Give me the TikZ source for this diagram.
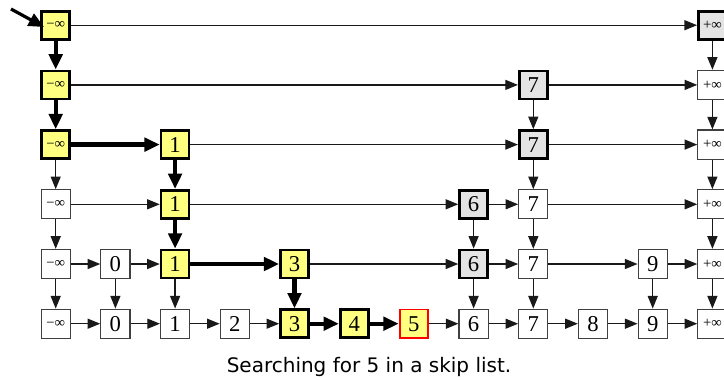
\documentclass[tikz,border=0pt]{standalone}
\usepackage{fontspec}
\setmainfont{Liberation Serif}
\newfontfamily\capfont{DejaVu Sans}
\usetikzlibrary{arrows.meta,calc}
\definecolor{pathyellow}{RGB}{255,255,128}
\definecolor{visitgray}{RGB}{228,228,228}
\newcommand{\NI}{{\fontsize{11}{11}\selectfont −∞}}
\newcommand{\PI}{{\fontsize{11}{11}\selectfont +∞}}
\begin{document}
\begin{tikzpicture}[x=0.75pt,y=-0.75pt,
  cell/.style={draw=black!75,line width=0.9pt,fill=white,minimum size=21.8pt,inner sep=0pt,font=\fontsize{17}{17}\selectfont},
  onpath/.style={cell,draw=black,fill=pathyellow,line width=2pt,minimum size=21pt},
  visited/.style={cell,draw=black,fill=visitgray,line width=2pt,minimum size=21pt},
  found/.style={cell,draw=red,fill=pathyellow,line width=1.4pt,minimum size=21.4pt},
  link/.style={draw=black!90,line width=1pt,-{Triangle[length=9.5pt,width=7.5pt]}},
  hot/.style={draw=black,line width=3.2pt,-{Triangle[length=11.5pt,width=10pt]}}]
\useasboundingbox (0,0) rectangle (724,379);
% columns: x = 55.7 + 59.7*c ; rows: y = 323.7 - 59.7*level
% level 5
\node[onpath]  (l5m) at (55.7,25.2) {\NI};
\node[visited] (l5p) at (712.4,25.2) {\PI};
% level 4
\node[onpath]  (l4m) at (55.7,84.9) {\NI};
\node[visited] (l47) at (533.3,84.9) {7};
\node[cell]    (l4p) at (712.4,84.9) {\PI};
% level 3
\node[onpath]  (l3m) at (55.7,144.6) {\NI};
\node[onpath]  (l31) at (175.1,144.6) {1};
\node[visited] (l37) at (533.3,144.6) {7};
\node[cell]    (l3p) at (712.4,144.6) {\PI};
% level 2
\node[cell]    (l2m) at (55.7,204.3) {\NI};
\node[onpath]  (l21) at (175.1,204.3) {1};
\node[visited] (l26) at (473.6,204.3) {6};
\node[cell]    (l27) at (533.3,204.3) {7};
\node[cell]    (l2p) at (712.4,204.3) {\PI};
% level 1
\node[cell]    (l1m) at (55.7,264) {\NI};
\node[cell]    (l10) at (115.4,264) {0};
\node[onpath]  (l11) at (175.1,264) {1};
\node[onpath]  (l13) at (294.5,264) {3};
\node[visited] (l16) at (473.6,264) {6};
\node[cell]    (l17) at (533.3,264) {7};
\node[cell]    (l19) at (652.7,264) {9};
\node[cell]    (l1p) at (712.4,264) {\PI};
% level 0
\node[cell]    (l0m) at (55.7,323.7) {\NI};
\node[cell]    (l00) at (115.4,323.7) {0};
\node[cell]    (l01) at (175.1,323.7) {1};
\node[cell]    (l02) at (234.8,323.7) {2};
\node[onpath]  (l03) at (294.5,323.7) {3};
\node[onpath]  (l04) at (354.2,323.7) {4};
\node[found]   (l05) at (413.9,323.7) {5};
\node[cell]    (l06) at (473.6,323.7) {6};
\node[cell]    (l07) at (533.3,323.7) {7};
\node[cell]    (l08) at (593,323.7) {8};
\node[cell]    (l09) at (652.7,323.7) {9};
\node[cell]    (l0p) at (712.4,323.7) {\PI};
% caption
\node[font=\capfont\fontsize{15}{18}\selectfont,anchor=base] (cap) at (369,372) {Searching for 5 in a skip list.};
% entry
\coordinate (entry) at (11,9);
% horizontal links
\draw[link] (l5m) -- (l5p);
\draw[link] (l4m) -- (l47);
\draw[link] (l47) -- (l4p);
\draw[link] (l31) -- (l37);
\draw[link] (l37) -- (l3p);
\draw[link] (l2m) -- (l21);
\draw[link] (l21) -- (l26);
\draw[link] (l26) -- (l27);
\draw[link] (l27) -- (l2p);
\draw[link] (l1m) -- (l10);
\draw[link] (l10) -- (l11);
\draw[link] (l13) -- (l16);
\draw[link] (l16) -- (l17);
\draw[link] (l17) -- (l19);
\draw[link] (l19) -- (l1p);
\draw[link] (l0m) -- (l00);
\draw[link] (l00) -- (l01);
\draw[link] (l01) -- (l02);
\draw[link] (l02) -- (l03);
\draw[link] (l05) -- (l06);
\draw[link] (l06) -- (l07);
\draw[link] (l07) -- (l08);
\draw[link] (l08) -- (l09);
\draw[link] (l09) -- (l0p);
% vertical links
\draw[link] (l5p) -- (l4p);
\draw[link] (l47) -- (l37);
\draw[link] (l4p) -- (l3p);
\draw[link] (l3m) -- (l2m);
\draw[link] (l37) -- (l27);
\draw[link] (l3p) -- (l2p);
\draw[link] (l2m) -- (l1m);
\draw[link] (l26) -- (l16);
\draw[link] (l27) -- (l17);
\draw[link] (l2p) -- (l1p);
\draw[link] (l1m) -- (l0m);
\draw[link] (l10) -- (l00);
\draw[link] (l11) -- (l01);
\draw[link] (l16) -- (l06);
\draw[link] (l17) -- (l07);
\draw[link] (l19) -- (l09);
\draw[link] (l1p) -- (l0p);
% search path
\draw[hot,line width=2.4pt] (entry) -- ($(l5m.center)+(-11.7,1.8)$);
\draw[hot] (l5m) -- (l4m);
\draw[hot] (l4m) -- (l3m);
\draw[hot] (l3m) -- (l31);
\draw[hot] (l31) -- (l21);
\draw[hot] (l21) -- (l11);
\draw[hot] (l11) -- (l13);
\draw[hot] (l13) -- (l03);
\draw[hot] (l03) -- (l04);
\draw[hot] (l04) -- (l05);
\end{tikzpicture}
\end{document}
